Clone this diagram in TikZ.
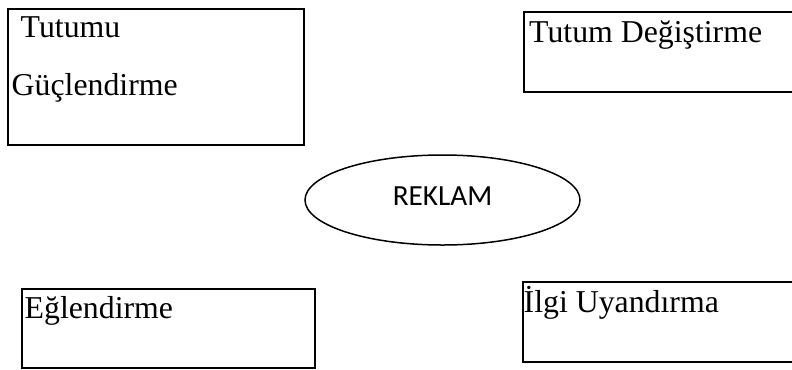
\documentclass[tikz,border=0pt]{standalone}
\usepackage{fontspec}
\setmainfont{Liberation Serif}
\newfontfamily\labelsans{Carlito}
\usetikzlibrary{shapes.geometric}
\begin{document}
\begin{tikzpicture}[x=1bp,y=-1bp,
  boxframe/.style={draw=black,line width=2.3bp,rectangle,inner sep=0pt},
  boxtext/.style={anchor=base west,inner sep=0pt,font=\fontsize{31.8bp}{36bp}\selectfont},
  hub/.style={draw=black,line width=1.5bp,ellipse,inner sep=0pt,
    minimum width=275bp,minimum height=90bp},
  hubtext/.style={anchor=base,inner sep=0pt,font=\labelsans\fontsize{29.2bp}{34bp}\selectfont}]
\useasboundingbox (0,0) rectangle (792,369);
\clip (0,0) rectangle (792,369);

% upper left box
\node[boxframe,minimum width=296bp,minimum height=136bp] (strengthen) at (156,77) {};
\node[boxtext] (strengthenA) at (20.5,37) {Tutumu};
\node[boxtext] (strengthenB) at (11.5,95) {Güçlendirme};

% upper right box (runs past the right edge)
\node[boxframe,minimum width=280bp,minimum height=80bp] (change) at (664,52) {};
\node[boxtext] (changeT) at (529,42) {Tutum Değiştirme};

% central ellipse
\node[hub] (ad) at (442.5,200) {};
\node[hubtext] (adT) at (442.5,205) {REKLAM};

% lower left box
\node[boxframe,minimum width=293bp,minimum height=79bp] (fun) at (168.5,328.5) {};
\node[boxtext] (funT) at (24.5,318) {Eğlendirme};

% lower right box (runs past the right edge)
\node[boxframe,minimum width=280bp,minimum height=80bp] (interest) at (663,322) {};
\node[boxtext] (interestT) at (523.5,312) {İlgi Uyandırma};
\end{tikzpicture}
\end{document}
